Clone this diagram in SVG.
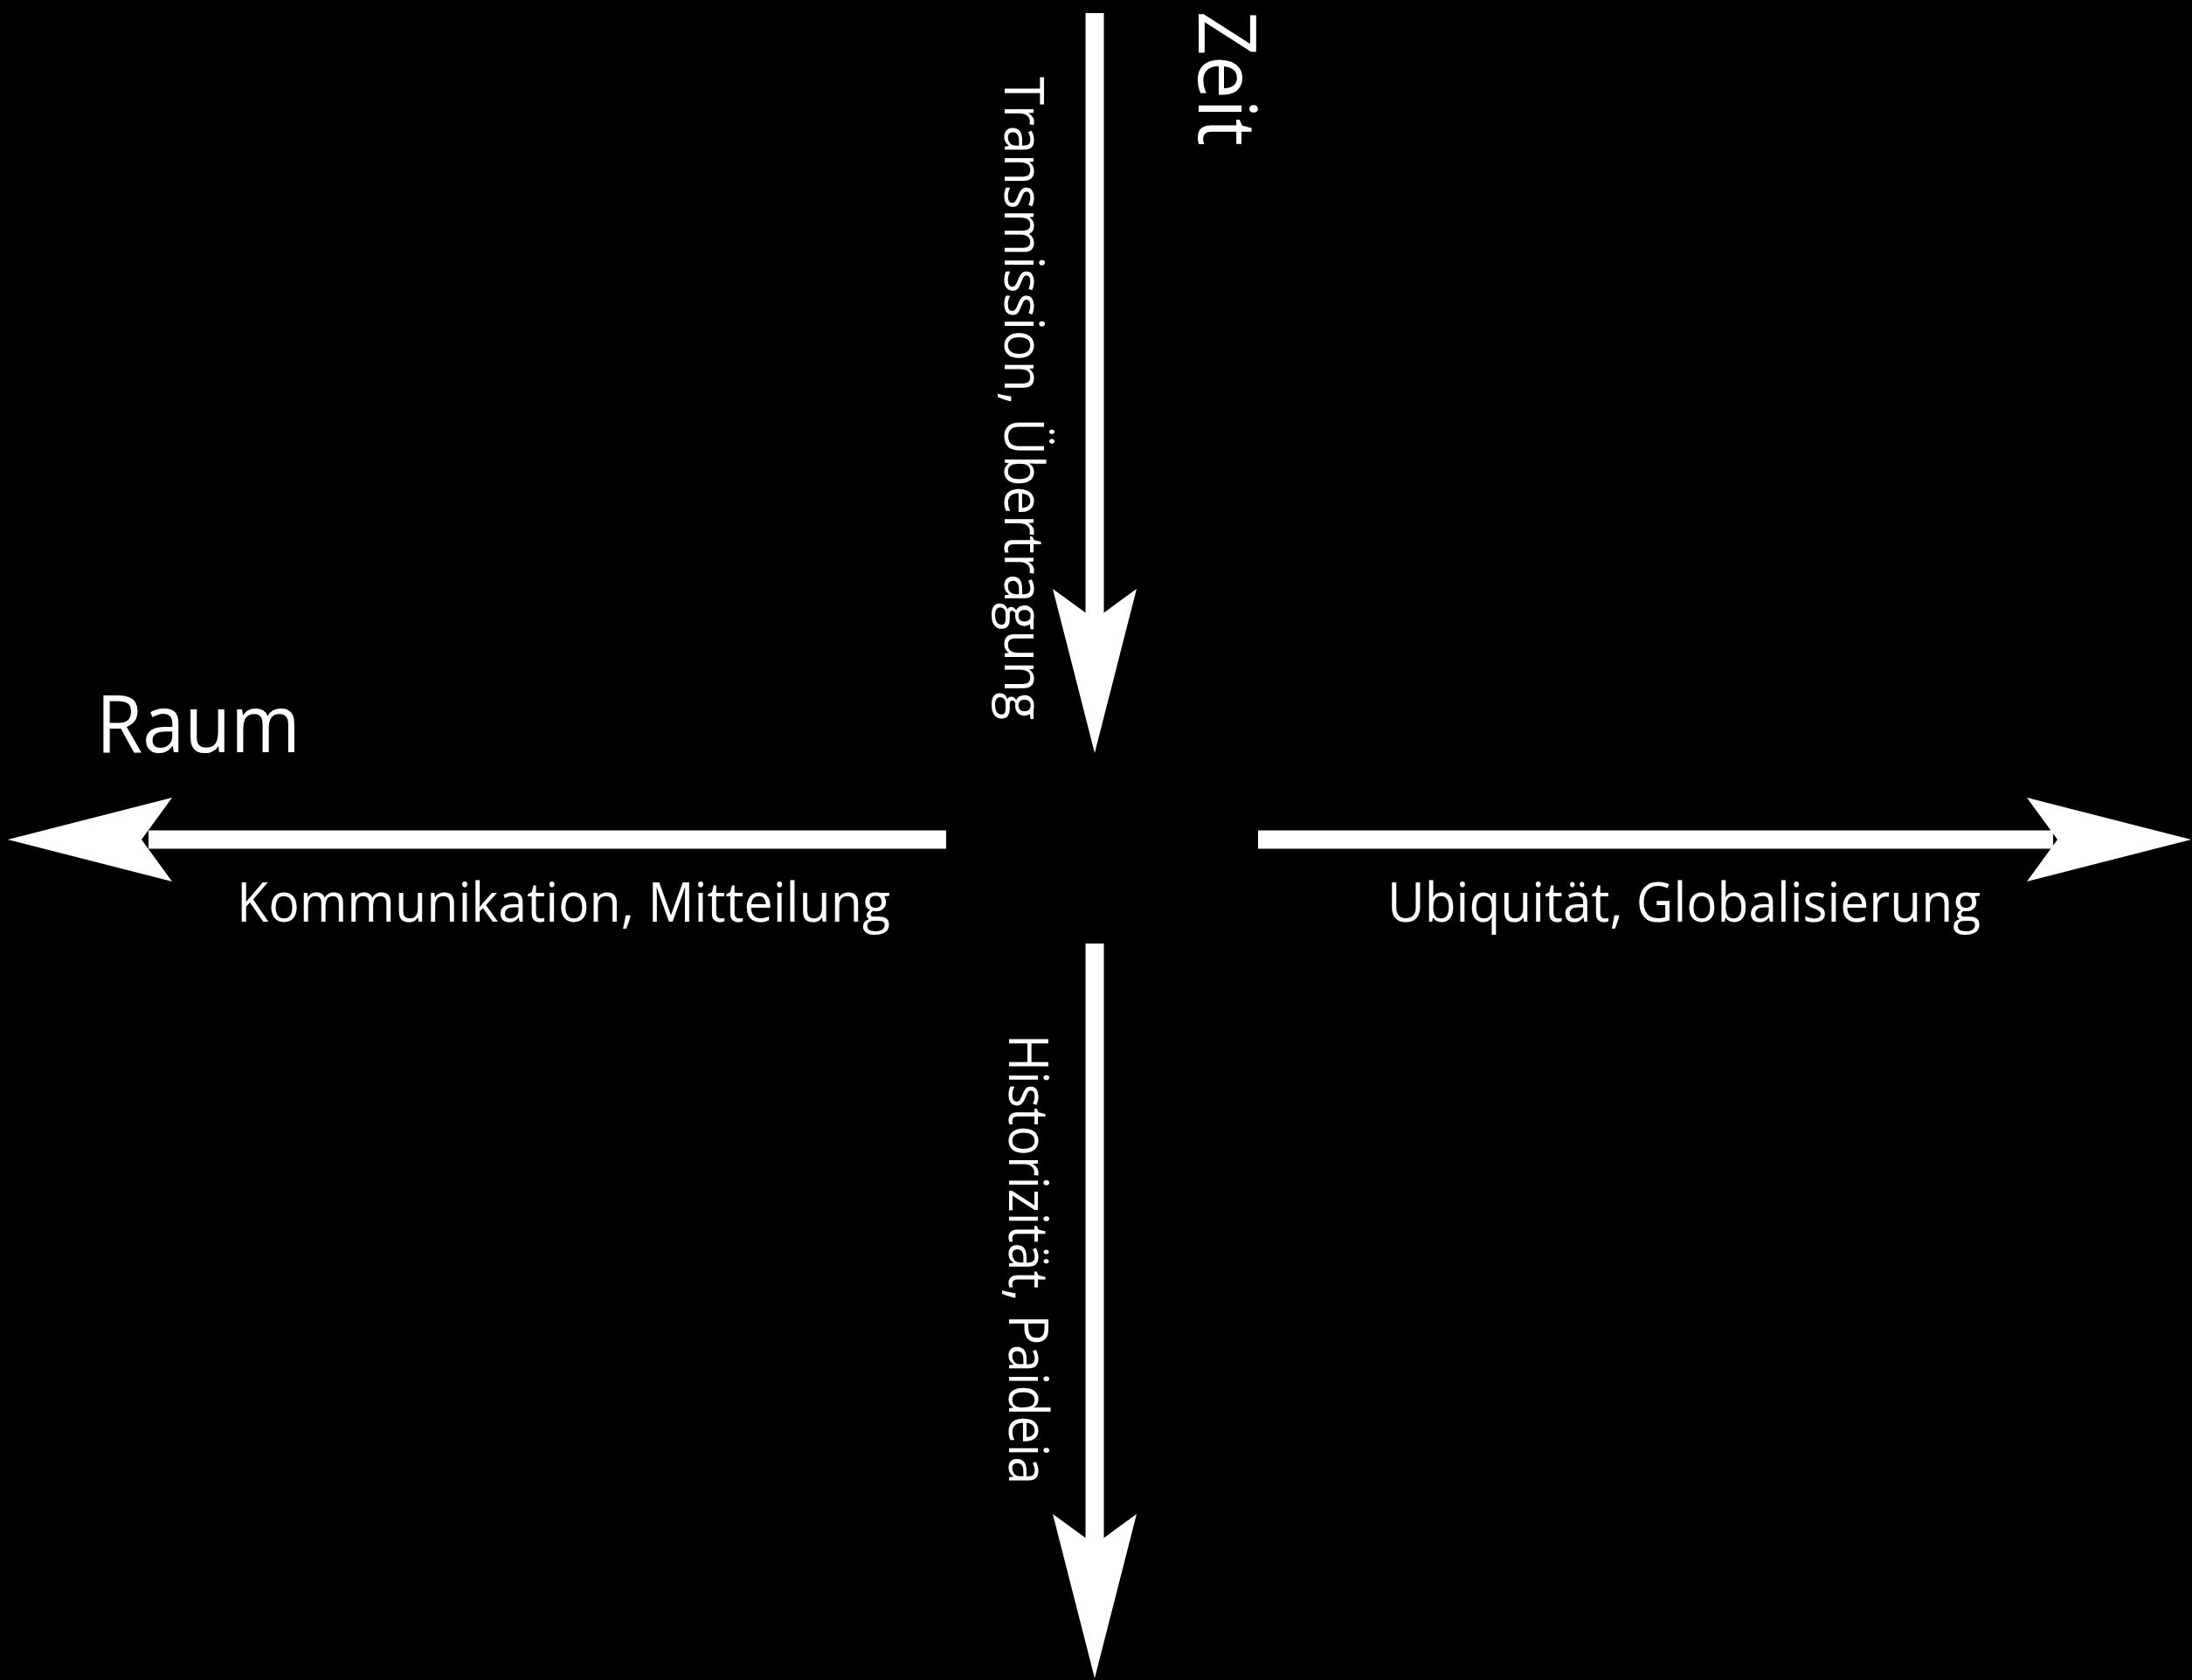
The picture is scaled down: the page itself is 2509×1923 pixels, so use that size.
<svg xmlns="http://www.w3.org/2000/svg" width="2509" height="1923" viewBox="0 0 2509 1923">
<style>
.shaft{stroke:#fff;stroke-width:21;fill:none}
.head{fill:#fff}
.lbl{fill:#fff;font-family:"Open Sans","Noto Sans","Liberation Sans",sans-serif}
.big{font-size:92px}
.small{font-size:62px}
</style>
<defs>
<path id="ah" d="M0,0 L-188,-48 L-153,0 L-188,48 Z"/>
</defs>
<rect x="0" y="0" width="2509" height="1923" fill="#000"/>
<g id="connectors">
<g id="arrow-top">
<line class="shaft" x1="1253" y1="15" x2="1253" y2="720"/>
<use href="#ah" class="head" transform="translate(1253,862) rotate(90)"/>
</g>
<g id="arrow-bottom">
<line class="shaft" x1="1253" y1="1080" x2="1253" y2="1780"/>
<use href="#ah" class="head" transform="translate(1253,1921) rotate(90)"/>
</g>
<g id="arrow-left">
<line class="shaft" x1="1083" y1="961" x2="170" y2="961"/>
<use href="#ah" class="head" transform="translate(9,961) rotate(180)"/>
</g>
<g id="arrow-right">
<line class="shaft" x1="1440" y1="961" x2="2350" y2="961"/>
<use href="#ah" class="head" transform="translate(2508,961)"/>
</g>
</g>
<g id="zeit">
<text class="lbl big" transform="translate(1372,13) rotate(90)" textLength="154" lengthAdjust="spacingAndGlyphs">Zeit</text>
</g>
<g id="raum">
<text class="lbl big" x="110" y="861" textLength="234" lengthAdjust="spacingAndGlyphs">Raum</text>
</g>
<g id="transmission">
<text class="lbl small" transform="translate(1150,88) rotate(90)" textLength="736" lengthAdjust="spacingAndGlyphs">Transmission, Übertragung</text>
</g>
<g id="historizitaet">
<text class="lbl small" transform="translate(1155,1184) rotate(90)" textLength="515" lengthAdjust="spacingAndGlyphs">Historizität, Paideia</text>
</g>
<g id="kommunikation">
<text class="lbl small" x="271" y="1055" textLength="748" lengthAdjust="spacingAndGlyphs">Kommunikation, Mitteilung</text>
</g>
<g id="ubiquitaet">
<text class="lbl small" x="1588" y="1055" textLength="679" lengthAdjust="spacingAndGlyphs">Ubiquität, Globalisierung</text>
</g>
</svg>
